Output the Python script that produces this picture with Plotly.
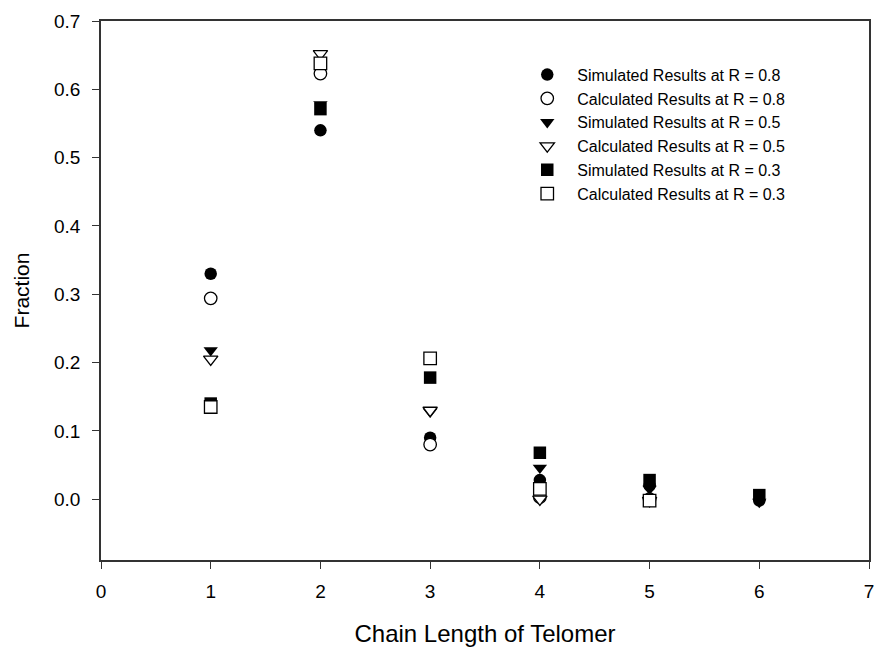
import plotly.graph_objects as go

# Chain length of telomer (x) and fraction (y) for each series
chain_length = [1, 2, 3, 4, 5, 6]
chain_length_calc = [1, 2, 3, 4, 5]

sim_r08 = [0.330, 0.540, 0.090, 0.028, 0.020, -0.002]
calc_r08 = [0.294, 0.623, 0.080, 0.003, 0.000]
sim_r05 = [0.218, 0.578, 0.128, 0.046, 0.015, -0.004]
calc_r05 = [0.205, 0.652, 0.130, 0.000, -0.002]
sim_r03 = [0.140, 0.571, 0.178, 0.068, 0.028, 0.006]
calc_r03 = [0.135, 0.638, 0.206, 0.015, -0.002]

x_ticks = [0, 1, 2, 3, 4, 5, 6, 7]
y_ticks = [0.0, 0.1, 0.2, 0.3, 0.4, 0.5, 0.6, 0.7]

FONT = "Arial, Liberation Sans, Helvetica, sans-serif"

series = [
    ("Simulated Results at R = 0.8", chain_length, sim_r08, "circle", True),
    ("Calculated Results at R = 0.8", chain_length_calc, calc_r08, "circle", False),
    ("Simulated Results at R = 0.5", chain_length, sim_r05, "triangle-down", True),
    ("Calculated Results at R = 0.5", chain_length_calc, calc_r05, "triangle-down", False),
    ("Simulated Results at R = 0.3", chain_length, sim_r03, "square", True),
    ("Calculated Results at R = 0.3", chain_length_calc, calc_r03, "square", False),
]

fig = go.Figure()
for name, xs, ys, symbol, filled in series:
    fig.add_trace(go.Scatter(
        x=xs, y=ys, mode="markers", name=name,
        marker=dict(
            symbol=symbol,
            size=12.5,
            color="black" if filled else "white",
            line=dict(color="black", width=0 if filled else 1.3),
        ),
    ))

axis_common = dict(
    showline=True, linecolor="#333333", linewidth=1.5, mirror=True,
    ticks="outside", ticklen=7, tickcolor="#333333", tickwidth=1.2,
    showgrid=False, zeroline=False,
    tickfont=dict(family=FONT, size=19, color="black"),
)

fig.update_xaxes(
    range=[0, 7], tickvals=x_ticks, ticklabelstandoff=6,
    title=dict(text="Chain Length of Telomer", font=dict(family=FONT, size=24, color="black"), standoff=25),
    **axis_common,
)
fig.update_yaxes(
    range=[-0.089, 0.7], tickvals=y_ticks, tickformat=".1f", ticklabelstandoff=8,
    title=dict(text="Fraction", font=dict(family=FONT, size=21, color="black"), standoff=19),
    **axis_common,
)

fig.update_layout(
    width=875, height=651,
    margin=dict(l=101, r=6, t=21, b=91, autoexpand=False),
    plot_bgcolor="white", paper_bgcolor="white",
    showlegend=True,
    legend=dict(
        x=0.542, y=0.932, xanchor="left", yanchor="top",
        bgcolor="rgba(0,0,0,0)",
        font=dict(family=FONT, size=16, color="black"),
        itemwidth=50,
    ),
)

fig.write_html("out.html")
